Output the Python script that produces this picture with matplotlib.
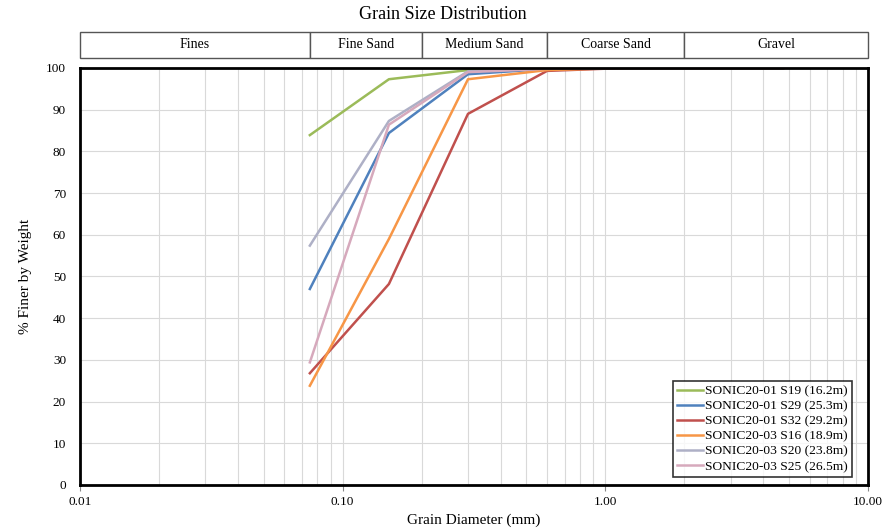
import matplotlib.pyplot as plt
from matplotlib.patches import Rectangle
from matplotlib.ticker import FixedLocator, LogLocator, NullFormatter

plt.rcParams['font.family'] = ['Liberation Serif', 'DejaVu Serif']

# Sieve sizes (mm)
sieves = [0.075, 0.15, 0.3, 0.6, 1.18, 2.36, 4.75]

# % finer by weight for each sample
s19_16 = [83.9, 97.3, 99.5, 100.0, 100.0, 100.0, 100.0]
s29_25 = [47.0, 84.4, 98.5, 99.8, 100.0, 100.0, 100.0]
s32_29 = [26.8, 48.2, 89.0, 99.3, 100.0, 100.0, 100.0]
s16_18 = [23.8, 59.0, 97.3, 99.5, 100.0, 100.0, 100.0]
s20_23 = [57.4, 87.3, 99.2, 99.9, 100.0, 100.0, 100.0]
s25_26 = [29.4, 86.4, 99.0, 99.8, 100.0, 100.0, 100.0]

labels = ['SONIC20-01 S19 (16.2m)', 'SONIC20-01 S29 (25.3m)', 'SONIC20-01 S32 (29.2m)',
          'SONIC20-03 S16 (18.9m)', 'SONIC20-03 S20 (23.8m)', 'SONIC20-03 S25 (26.5m)']
colors = ['#9BBB59', '#4F81BD', '#C0504D', '#F79646', '#AEB0C6', '#D6A9BC']

# Soil classification bands (mm)
band_names = ['Fines', 'Fine Sand', 'Medium Sand', 'Coarse Sand', 'Gravel']
band_edges = [0.01, 0.075, 0.2, 0.6, 2.0, 10.0]

fig = plt.figure(figsize=(8.83, 5.29), dpi=100)
ax = fig.add_axes([0.0906, 0.0832, 0.8924, 0.7883])

for y, lab, c in zip([s19_16, s29_25, s32_29, s16_18, s20_23, s25_26], labels, colors):
    ax.plot(sieves, y, color=c, lw=1.8, label=lab)

ax.set_xscale('log')
ax.set_xlim(0.01, 10)
ax.set_ylim(0, 100)
ax.set_yticks(range(0, 101, 10))
ax.xaxis.set_major_locator(FixedLocator([0.01, 0.1, 1, 10]))
ax.set_xticklabels(['0.01', '0.10', '1.00', '10.00'])
ax.xaxis.set_minor_locator(LogLocator(base=10, subs=range(2, 10)))
ax.xaxis.set_minor_formatter(NullFormatter())
ax.tick_params(axis='both', which='major', labelsize=9.5, length=4, color='#888888')
ax.tick_params(axis='x', which='minor', length=0)
ax.tick_params(axis='x', pad=4)
ax.tick_params(axis='y', length=0, pad=10)
ax.grid(True, which='both', color='#D9D9D9', lw=0.8)
ax.set_axisbelow(True)
for sp in ax.spines.values():
    sp.set_linewidth(2)
    sp.set_color('black')

ax.set_xlabel('Grain Diameter (mm)', fontsize=11, labelpad=4)
ax.set_ylabel('% Finer by Weight', fontsize=11, labelpad=10)

leg = ax.legend(loc='lower right', fontsize=9.7, frameon=True, fancybox=False,
                borderpad=0.3, labelspacing=0.2, handlelength=1.9, handletextpad=0.2,
                borderaxespad=0.6, bbox_to_anchor=(0.99, 0.0))
leg.get_frame().set_edgecolor('black')
leg.get_frame().set_linewidth(1.2)

# Header band with classification boxes
band = fig.add_axes([0.0906, 0.8904, 0.8924, 0.0491])
band.set_xscale('log')
band.set_xlim(0.01, 10)
band.set_ylim(0, 1)
band.axis('off')
for name, lo, hi in zip(band_names, band_edges[:-1], band_edges[1:]):
    band.add_patch(Rectangle((lo, 0), hi - lo, 1, facecolor='white', edgecolor='#555555', lw=1.0,
                             clip_on=False))
    band.text((lo * hi) ** 0.5, 0.5, name, ha='center', va='center', fontsize=10)

fig.text(0.502, 0.972, 'Grain Size Distribution', ha='center', va='center', fontsize=13)

fig.savefig('out.png', dpi=100)
